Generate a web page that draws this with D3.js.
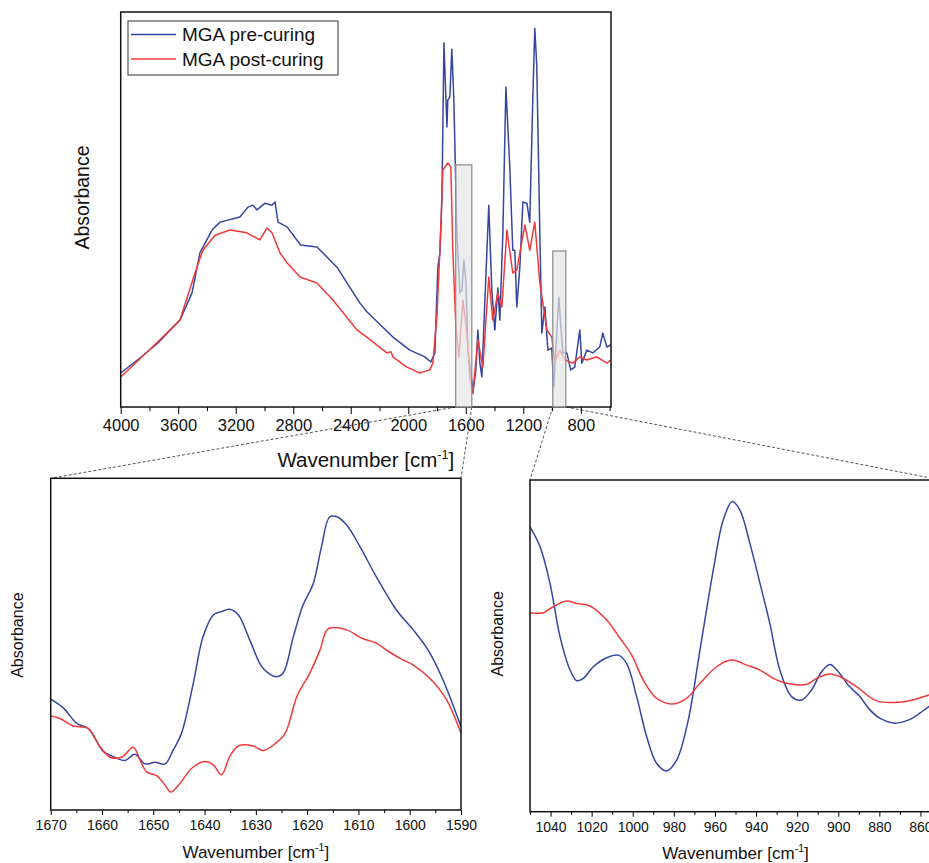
<!DOCTYPE html>
<html>
<head>
<meta charset="utf-8">
<script src="https://cdn.jsdelivr.net/npm/d3@7"></script>
<style>
  body { margin: 0; background: #fff; }
  svg { font-family: "Liberation Sans", Arial, sans-serif; }
</style>
</head>
<body>
<svg id="chart" width="929" height="863"></svg>
<script>
// Full FTIR spectrum: [wavenumber cm-1, absorbance (arb. units)]
const preCuring = [
  [4000,0.086],[3866,0.124],[3741,0.162],[3588,0.220],[3504,0.289],[3449,0.390],
  [3365,0.448],[3309,0.468],[3171,0.481],[3115,0.506],[3080,0.511],[3052,0.499],
  [2996,0.516],[2948,0.511],[2927,0.519],[2906,0.468],[2843,0.456],[2749,0.410],
  [2635,0.405],[2593,0.390],[2496,0.354],[2336,0.263],[2288,0.241],[2107,0.177],
  [1989,0.144],[1885,0.127],[1843,0.114],[1815,0.137],[1794,0.354],[1780,0.390],
  [1766,0.524],[1752,0.922],[1731,0.709],[1725,0.777],[1711,0.785],[1697,0.906],
  [1683,0.777],[1662,0.441],[1641,0.289],[1627,0.296],[1613,0.372],[1599,0.314],
  [1585,0.144],[1557,0.061],[1551,0.035],[1530,0.094],[1516,0.195],[1502,0.111],
  [1488,0.076],[1467,0.271],[1440,0.511],[1419,0.296],[1398,0.195],[1377,0.301],
  [1363,0.220],[1342,0.441],[1321,0.810],[1294,0.608],[1273,0.397],[1259,0.397],
  [1245,0.253],[1224,0.354],[1203,0.519],[1175,0.516],[1155,0.468],[1134,0.777],
  [1120,0.959],[1106,0.861],[1085,0.441],[1071,0.187],[1050,0.253],[1029,0.144],
  [1002,0.149],[988,0.051],[974,0.144],[953,0.278],[925,0.137],[897,0.137],
  [870,0.094],[842,0.101],[807,0.195],[793,0.111],[758,0.144],[717,0.137],
  [668,0.152],[647,0.187],[619,0.152],[592,0.157]
];
const postCuring = [
  [4000,0.076],[3741,0.165],[3588,0.220],[3470,0.354],[3428,0.397],[3344,0.435],
  [3240,0.448],[3122,0.441],[3032,0.423],[2983,0.453],[2948,0.441],[2892,0.390],
  [2843,0.365],[2753,0.329],[2635,0.314],[2524,0.271],[2357,0.195],[2288,0.177],
  [2149,0.137],[2120,0.140],[2107,0.127],[2010,0.101],[1919,0.086],[1850,0.094],
  [1829,0.111],[1801,0.228],[1780,0.397],[1759,0.600],[1725,0.618],[1704,0.608],
  [1690,0.397],[1669,0.203],[1648,0.127],[1620,0.271],[1592,0.187],[1572,0.076],
  [1551,0.035],[1516,0.170],[1481,0.101],[1440,0.329],[1412,0.220],[1377,0.289],
  [1349,0.253],[1314,0.448],[1273,0.339],[1245,0.347],[1189,0.461],[1155,0.397],
  [1120,0.468],[1085,0.314],[1036,0.195],[1002,0.177],[981,0.114],[946,0.144],
  [911,0.119],[856,0.111],[807,0.127],[758,0.119],[689,0.127],[619,0.111],[592,0.119]
];

// Zoom 1: 1670-1590 cm-1
const preZoomA = [
  [1670,0.334],[1667.5,0.307],[1664.9,0.261],[1662.7,0.246],[1659.7,0.176],[1657.8,0.161],
  [1655.5,0.149],[1653.6,0.168],[1651.6,0.139],[1649.7,0.144],[1647.7,0.139],[1646.1,0.181],
  [1644.5,0.231],[1642.2,0.382],[1640.3,0.522],[1638.3,0.588],[1636.7,0.598],[1635.1,0.605],
  [1633.4,0.588],[1631.2,0.513],[1628.6,0.427],[1626,0.402],[1624.7,0.412],[1622.7,0.522],
  [1620.8,0.618],[1618.8,0.683],[1617.2,0.794],[1615.6,0.884],[1614.2,0.884],[1612.3,0.859],
  [1609.7,0.794],[1606.5,0.703],[1602.6,0.603],[1599.3,0.543],[1596.4,0.482],[1593.5,0.392],
  [1590,0.251]
];
const postZoomA = [
  [1670,0.283],[1668.2,0.276],[1665.6,0.253],[1662.7,0.246],[1660.4,0.191],[1658.4,0.159],
  [1656.2,0.159],[1653.9,0.189],[1652.6,0.151],[1651.3,0.115],[1649.3,0.103],[1647.7,0.075],
  [1646.6,0.054],[1644.8,0.080],[1642.5,0.126],[1639.9,0.146],[1638.3,0.136],[1636.7,0.106],
  [1635.1,0.161],[1633.4,0.193],[1630.5,0.193],[1628.6,0.179],[1626.6,0.196],[1624.3,0.231],
  [1622,0.342],[1619.5,0.412],[1617.5,0.482],[1615.9,0.546],[1612.3,0.543],[1609.4,0.518],
  [1606.5,0.503],[1604.5,0.482],[1601.9,0.457],[1599.3,0.437],[1596.1,0.397],[1592.8,0.332],
  [1590,0.231]
];

// Zoom 2: 1050-850 cm-1
const preZoomB = [
  [1050,0.859],[1045.1,0.799],[1040.3,0.689],[1035.4,0.528],[1030.5,0.427],[1027.3,0.395],
  [1024.1,0.402],[1019.2,0.437],[1013.5,0.462],[1007,0.472],[1003,0.447],[998.1,0.347],
  [993.2,0.226],[988.4,0.146],[983.5,0.123],[978.6,0.156],[973,0.276],[967.3,0.487],
  [960.8,0.729],[956,0.879],[951.6,0.935],[947.9,0.910],[943,0.809],[938.1,0.689],
  [933.3,0.568],[928.4,0.427],[922.7,0.347],[917.8,0.337],[913,0.367],[908.1,0.422],
  [904.1,0.444],[900,0.422],[895.2,0.382],[889.5,0.347],[884.6,0.307],[879.8,0.282],
  [872.5,0.267],[866,0.276],[860.3,0.297],[855.9,0.317],[850,0.340]
];
const postZoomB = [
  [1050,0.600],[1043.5,0.600],[1038.7,0.618],[1032.2,0.635],[1027.3,0.628],[1020.8,0.620],
  [1012.7,0.578],[1006.2,0.523],[1000.5,0.472],[994.9,0.397],[988.4,0.342],[981.1,0.325],
  [973.8,0.342],[967.3,0.387],[959.2,0.437],[951.9,0.457],[944.6,0.442],[938.1,0.427],
  [931.6,0.402],[925.1,0.387],[915.4,0.384],[910.5,0.402],[904.1,0.415],[899.2,0.407],
  [891.1,0.377],[881.4,0.334],[870,0.330],[863.6,0.337],[855.9,0.352],[850,0.360]
];

const seriesNames = ["MGA pre-curing", "MGA post-curing"];
const seriesColors = ["#3446a0", "#f03a3a"];

// highlighted regions on the full spectrum: [from, to, box top]
const zoomBoxes = [[1670, 1558, 0.613], [995, 904, 0.395]];

const svg = d3.select("#chart");

// ---------- helper: one spectrum panel ----------
function drawPanel(o) {
  const x = d3.scaleLinear().domain(o.xDomain).range([o.left, o.right]);
  const y = d3.scaleLinear().domain([0, 1]).range([o.bottom, o.top]);
  const g = svg.append("g");

  const line = d3.line()
    .x(d => x(d[0]))
    .y(d => y(d[1]))
    .curve(o.smooth ? d3.curveCatmullRom.alpha(0.5) : d3.curveLinear);

  const clipId = "clip" + Math.round(o.left);
  g.append("clipPath").attr("id", clipId)
    .append("rect")
    .attr("x", o.left).attr("y", o.top)
    .attr("width", o.right - o.left).attr("height", o.bottom - o.top);

  const lines = g.append("g").attr("clip-path", "url(#" + clipId + ")");
  o.series.forEach((s, i) => {
    lines.append("path")
      .datum(s)
      .attr("fill", "none")
      .attr("stroke", seriesColors[i])
      .attr("stroke-width", o.lineWidth)
      .attr("stroke-linejoin", "round")
      .attr("d", line);
  });

  // minor + major ticks at the bottom
  g.append("g")
    .attr("transform", "translate(0," + o.bottom + ")")
    .call(d3.axisBottom(x).tickValues(o.minorTicks).tickSize(o.tickSize * 0.6).tickFormat(""))
    .call(a => a.select(".domain").remove());
  g.append("g")
    .attr("transform", "translate(0," + o.bottom + ")")
    .call(d3.axisBottom(x).tickValues(o.majorTicks).tickSize(o.tickSize).tickPadding(5).tickFormat(d3.format("d")))
    .call(a => a.select(".domain").remove())
    .call(a => a.selectAll("text").attr("font-size", o.tickFont).attr("fill", "#111")
      .attr("font-family", "Liberation Sans, Arial, sans-serif"));

  // frame
  g.append("rect")
    .attr("x", o.left).attr("y", o.top)
    .attr("width", o.right - o.left).attr("height", o.bottom - o.top)
    .attr("fill", "none").attr("stroke", "#111").attr("stroke-width", 1.5);

  // axis titles
  const t = g.append("text")
    .attr("x", (o.left + o.right) / 2 + (o.titleShift || 0))
    .attr("y", o.titleY)
    .attr("text-anchor", "middle")
    .attr("font-size", o.titleFont)
    .attr("fill", "#111")
    .text("Wavenumber [cm");
  t.append("tspan").attr("font-size", o.titleFont * 0.62).attr("dy", -o.titleFont * 0.4).text("-1");
  t.append("tspan").attr("dy", o.titleFont * 0.4).text("]");

  g.append("text")
    .attr("transform", "translate(" + o.yTitleX + "," + ((o.top + o.bottom) / 2 + (o.yTitleShift || 0)) + ") rotate(-90)")
    .attr("text-anchor", "middle")
    .attr("font-size", o.yTitleFont)
    .attr("fill", "#111")
    .text("Absorbance");

  return { x, y, g };
}

// ---------- dashed connector lines (drawn first, under the panels) ----------
const conn = svg.append("g");

// ---------- full spectrum ----------
const main = drawPanel({
  left: 120.7, right: 611, top: 12, bottom: 407,
  xDomain: [4000, 590],
  series: [preCuring, postCuring],
  smooth: false, lineWidth: 1.5,
  majorTicks: d3.range(4000, 799, -400),
  minorTicks: d3.range(3800, 599, -400),
  tickSize: 7, tickFont: 16.5,
  titleY: 467, titleFont: 20.5,
  yTitleX: 89, yTitleFont: 19.5, yTitleShift: -12
});

// grey highlight boxes
zoomBoxes.forEach(b => {
  main.g.append("rect")
    .attr("x", main.x(b[0]))
    .attr("y", main.y(b[2]))
    .attr("width", main.x(b[1]) - main.x(b[0]))
    .attr("height", main.y(0) - main.y(b[2]))
    .attr("fill", "#e4e6e5").attr("fill-opacity", 0.7)
    .attr("stroke", "#8a8a8a").attr("stroke-width", 1.2);
});

// legend
const leg = main.g.append("g");
leg.append("rect")
  .attr("x", 128).attr("y", 21).attr("width", 210).attr("height", 54)
  .attr("fill", "#fff").attr("stroke", "#555").attr("stroke-width", 1.2);
seriesNames.forEach((n, i) => {
  const yy = 34.5 + i * 24.5;
  leg.append("line")
    .attr("x1", 131).attr("x2", 176).attr("y1", yy).attr("y2", yy)
    .attr("stroke", seriesColors[i]).attr("stroke-width", 1.5);
  leg.append("text")
    .attr("x", 182).attr("y", yy + 6.5)
    .attr("font-size", 19).attr("fill", "#111")
    .text(n);
});

// ---------- zoom panels ----------
const panelA = drawPanel({
  left: 50.7, right: 461, top: 478.3, bottom: 810,
  xDomain: [1670, 1590],
  series: [preZoomA, postZoomA],
  smooth: true, lineWidth: 1.5,
  majorTicks: d3.range(1670, 1589, -10),
  minorTicks: d3.range(1665, 1590, -10),
  tickSize: 5, tickFont: 14,
  titleY: 858, titleFont: 17,
  yTitleX: 23, yTitleFont: 16, yTitleShift: -9
});

const panelB = drawPanel({
  left: 530, right: 941, top: 480, bottom: 811.7,
  xDomain: [1050, 850],
  series: [preZoomB, postZoomB],
  smooth: true, lineWidth: 1.5,
  majorTicks: d3.range(1040, 859, -20),
  minorTicks: d3.range(1050, 849, -20),
  tickSize: 5, tickFont: 14,
  titleY: 859, titleFont: 17, titleShift: 0,
  yTitleX: 503, yTitleFont: 16, yTitleShift: -12
});

// connectors from the grey boxes to the zoom panels
const dash = (x1, y1, x2, y2) => conn.append("line")
  .attr("x1", x1).attr("y1", y1).attr("x2", x2).attr("y2", y2)
  .attr("stroke", "#555").attr("stroke-width", 1).attr("stroke-dasharray", "3,2");
const b1 = zoomBoxes[0], b2 = zoomBoxes[1];
dash(main.x(b1[0]), main.y(0), panelA.x(1670), panelA.y(1));
dash(main.x(b1[1]), main.y(0), panelA.x(1590), panelA.y(1));
dash(main.x(b2[0]), main.y(0), panelB.x(1050), panelB.y(1));
dash(main.x(b2[1]), main.y(0), panelB.x(850), panelB.y(1));
</script>
</body>
</html>
